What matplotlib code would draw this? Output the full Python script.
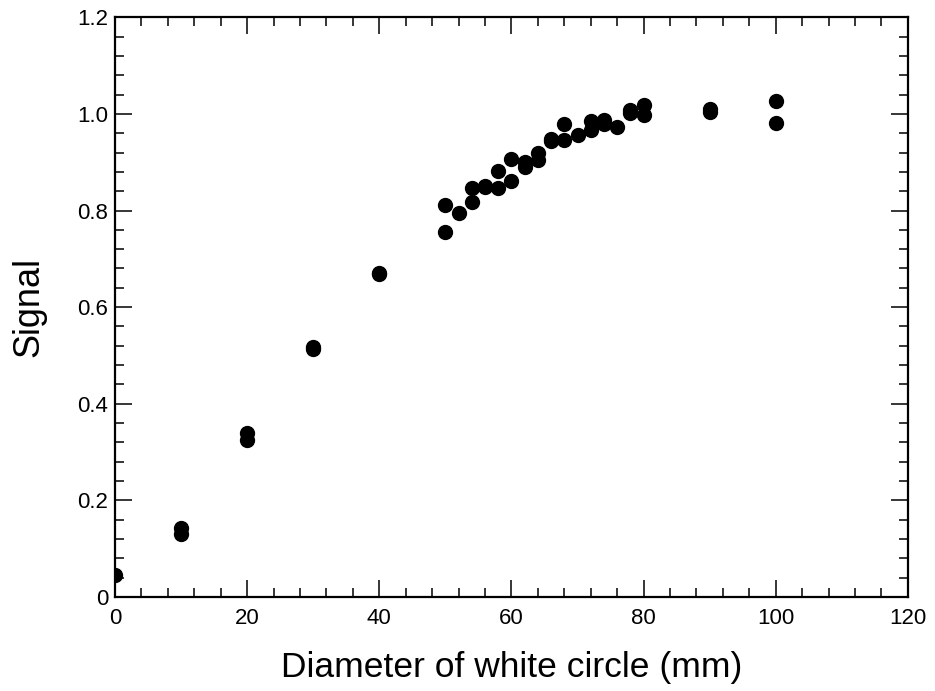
import matplotlib
matplotlib.use("Agg")
import matplotlib.pyplot as plt
from matplotlib.ticker import MultipleLocator, FixedFormatter, FixedLocator

plt.rcParams['font.family'] = ['Liberation Sans', 'DejaVu Sans']

diameter_mm = [0, 10, 10, 20, 20, 30, 30, 40, 40,
               50, 50, 52, 54, 54, 56, 56, 58, 58, 60, 60, 62, 62, 64, 64,
               66, 66, 68, 68, 70, 72, 72, 74, 74, 76, 78, 78, 80, 80,
               90, 90, 100, 100]
signal = [0.045, 0.142, 0.130, 0.340, 0.325, 0.518, 0.514, 0.670, 0.668,
          0.811, 0.755, 0.795, 0.847, 0.817, 0.850, 0.848, 0.881, 0.846, 0.906, 0.861,
          0.900, 0.891, 0.919, 0.905, 0.948, 0.944, 0.980, 0.945, 0.957, 0.986, 0.966,
          0.987, 0.979, 0.973, 1.008, 1.001, 1.018, 0.998, 1.010, 1.003, 1.027, 0.982]

x_ticks = [0, 20, 40, 60, 80, 100, 120]
y_ticks = [0, 0.2, 0.4, 0.6, 0.8, 1.0, 1.2]
y_tick_labels = ["0", "0.2", "0.4", "0.6", "0.8", "1.0", "1.2"]

fig = plt.figure(figsize=(9.35, 6.91), dpi=100)
ax = fig.add_axes([0.123, 0.136, 0.848, 0.839])

ax.plot(diameter_mm, signal, 'o', color='black', markersize=10, linestyle='none')

ax.set_xlim(0, 120)
ax.set_ylim(0, 1.2)
ax.xaxis.set_major_locator(FixedLocator(x_ticks))
ax.xaxis.set_minor_locator(MultipleLocator(4))
ax.yaxis.set_major_locator(FixedLocator(y_ticks))
ax.yaxis.set_major_formatter(FixedFormatter(y_tick_labels))
ax.yaxis.set_minor_locator(MultipleLocator(0.04))

ax.tick_params(which='both', direction='in', top=True, right=True, width=1.1, labelsize=16, colors='black')
ax.tick_params(which='major', length=12)
ax.tick_params(which='minor', length=6.5)
ax.tick_params(axis='x', which='major', pad=8)
ax.tick_params(axis='y', which='major', pad=5)
for s in ax.spines.values():
    s.set_linewidth(1.6)

ax.set_xlabel("Diameter of white circle (mm)", fontsize=25.5, labelpad=16)
ax.set_ylabel("Signal", fontsize=26, labelpad=22)

fig.savefig("out.png", dpi=100)
